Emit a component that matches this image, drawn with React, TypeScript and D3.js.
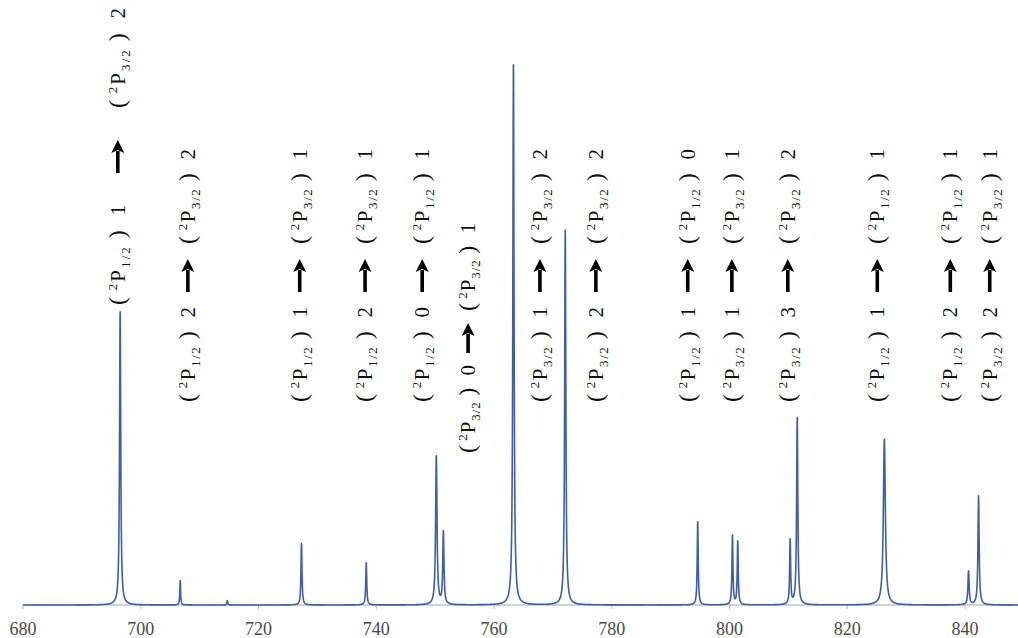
import React from "react";
import * as d3 from "d3";

// ---- data ----
const peakCenters = [696.5, 706.7, 714.7, 727.3, 738.3, 750.2, 751.4, 763.3, 772.1, 794.6, 800.5, 801.4, 810.3, 811.5, 826.3, 840.6, 842.3];
const peakHeights = [54.3, 4.5, 0.8, 11.4, 7.8, 27.5, 13.4, 100, 69.4, 15.4, 12.8, 11.7, 11.9, 34.6, 30.7, 6.2, 20.2];
const peakWidths = [0.12, 0.08, 0.08, 0.1, 0.1, 0.14, 0.12, 0.12, 0.12, 0.1, 0.1, 0.1, 0.1, 0.12, 0.2, 0.12, 0.12];

const xTicks = [680, 700, 720, 740, 760, 780, 800, 820, 840];

// transition labels: lower term -> upper term
const labelLowerJ = ["1/2", "1/2", "1/2", "1/2", "1/2", "3/2", "3/2", "3/2", "1/2", "3/2", "3/2", "1/2", "1/2", "3/2"];
const labelLowerN = ["1", "2", "1", "2", "0", "0", "1", "2", "1", "1", "3", "1", "2", "2"];
const labelUpperJ = ["3/2", "3/2", "3/2", "3/2", "1/2", "3/2", "3/2", "3/2", "1/2", "3/2", "3/2", "1/2", "1/2", "3/2"];
const labelUpperN = ["2", "2", "1", "1", "1", "1", "2", "2", "0", "1", "2", "1", "1", "1"];
const labelWavelength = [696.1, 708.0, 727.0, 738.1, 747.8, 755.6, 767.8, 777.3, 792.9, 800.4, 809.9, 825.1, 837.5, 844.2];

// ---- layout ----
const W = 1018, H = 638;
const labelBottom = [305, 402, 402, 402, 402, 453, 402, 402, 402, 402, 402, 402, 402, 402];
const labelPart = [100, 95, 95, 95, 95, 88, 95, 95, 95, 95, 95, 95, 95, 95];
const labelGap = [32, 15, 15, 15, 15, 12, 15, 15, 15, 15, 15, 15, 15, 15];
const labelArrow = [33, 33, 33, 33, 33, 30, 33, 33, 33, 33, 33, 33, 33, 33];

const x = d3.scaleLinear().domain([680, 849]).range([23, 1018]);
const y = d3.scaleLinear().domain([0, 100]).range([605, 65]);

function spectrum(l: number) {
  let s = 0;
  for (let i = 0; i < peakCenters.length; i++) {
    const g = peakWidths[i];
    const d = l - peakCenters[i];
    s += peakHeights[i] * (g * g) / (d * d + g * g);
  }
  return s;
}

const samples: [number, number][] = d3.range(680, 849.001, 0.01).map((l) => [l, spectrum(l)]);
const line = d3.line<[number, number]>().x((d) => x(d[0])).y((d) => y(d[1]));

const FS = 21;
const SUB = 13;
const PAREN = 24;
const FONT = "'Liberation Serif', 'Times New Roman', serif";

function Term({ j, n, len, x0 }: { j: string; n: string; len: number; x0: number }) {
  return (
    <text x={x0} y={0} fontFamily={FONT} fontSize={FS} fill="#111" textLength={len} lengthAdjust="spacing">
      <tspan fontSize={PAREN}>(</tspan>
      <tspan fontSize={SUB} dy={-8}>{"\u20092"}</tspan>
      <tspan dy={8}>P</tspan>
      <tspan fontSize={SUB} dy={5}>{j}</tspan>
      <tspan fontSize={PAREN} dy={-5}>{"\u2009)"}</tspan>
      <tspan>{"\u2002" + n}</tspan>
    </text>
  );
}

function Label({ i }: { i: number }) {
  const cx = x(labelWavelength[i]);
  const by = labelBottom[i];
  const G = labelGap[i];
  const P = labelPart[i];
  const A = labelArrow[i];
  const a0 = P + G;
  const a1 = a0 + A;
  const p2 = a1 + G;
  const ay = -7;
  const head = 13;
  return (
    <g transform={`translate(${cx + 7},${by}) rotate(-90)`}>
      <Term j={labelLowerJ[i]} n={labelLowerN[i]} len={P} x0={0} />
      <path d={`M${a0},${ay} L${a1 - head + 2},${ay}`} stroke="#000" strokeWidth={3.6} />
      <path d={`M${a1},${ay} L${a1 - head},${ay - 6.5} L${a1 - head + 3},${ay} L${a1 - head},${ay + 6.5} Z`} fill="#000" />
      <Term j={labelUpperJ[i]} n={labelUpperN[i]} len={P} x0={p2} />
    </g>
  );
}

export default function App() {
  return (
    <svg width={W} height={H} style={{ position: "absolute", left: 0, top: 0, background: "#fff" }}>
      <line x1={x(680)} x2={W} y1={605} y2={605} stroke="#9aa4b8" strokeWidth={1} />
      {xTicks.map((t) => (
        <g key={t}>
          <line x1={x(t)} x2={x(t)} y1={605} y2={609} stroke="#b8bcc4" strokeWidth={1} />
          <text x={x(t)} y={635} textAnchor="middle" fontFamily={FONT} fontSize={18} fill="#4a4a4a">
            {t}
          </text>
        </g>
      ))}
      <path d={line(samples) || ""} fill="none" stroke="#3d5fa8" strokeWidth={1.6} strokeLinejoin="round" />
      {labelWavelength.map((_, i) => (
        <Label key={i} i={i} />
      ))}
    </svg>
  );
}
